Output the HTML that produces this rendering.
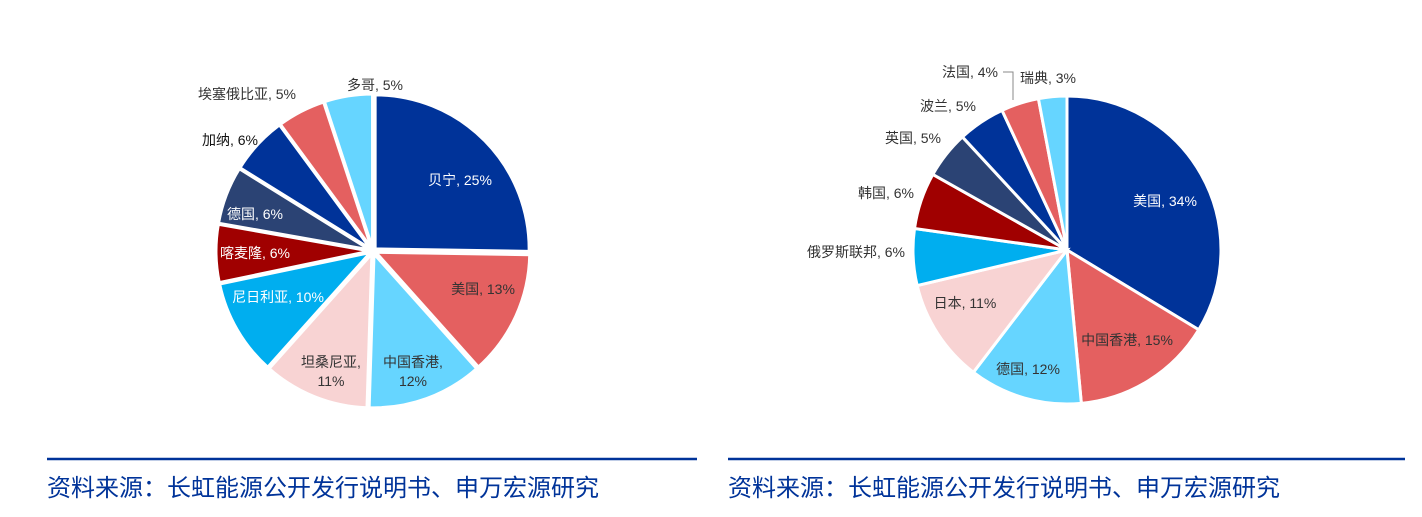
<!DOCTYPE html>
<html><head><meta charset="utf-8"><style>
body{margin:0;background:#fff;width:1422px;height:517px;overflow:hidden;font-family:"Liberation Sans","Noto Sans CJK SC",sans-serif}
svg{position:absolute;left:0;top:0}
</style></head><body>
<svg id="s" width="1422" height="517" xmlns="http://www.w3.org/2000/svg" font-family="Liberation Sans, Noto Sans CJK SC, sans-serif">
<line x1="47" y1="459" x2="697" y2="459" stroke="#003399" stroke-width="2.5"/>
<line x1="728" y1="459" x2="1405" y2="459" stroke="#003399" stroke-width="2.5"/>
<text x="47" y="496" font-size="24" fill="#003399" textLength="552">资料来源：长虹能源公开发行说明书、申万宏源研究</text>
<text x="728" y="496" font-size="24" fill="#003399" textLength="552">资料来源：长虹能源公开发行说明书、申万宏源研究</text>
<g id="p1"></g><g id="p2"></g>
<g font-size="14" text-anchor="middle">
<text x="460" y="185" fill="#fff">贝宁, 25%</text>
<text x="483" y="294" fill="#333">美国, 13%</text>
<text x="413" y="367" fill="#333">中国香港,</text><text x="413" y="386" fill="#333">12%</text>
<text x="331" y="367" fill="#333">坦桑尼亚,</text><text x="331" y="386" fill="#333">11%</text>
<text x="278" y="302" fill="#fff">尼日利亚, 10%</text>
<text x="255" y="258" fill="#fff">喀麦隆, 6%</text>
<text x="255" y="219" fill="#fff">德国, 6%</text>
<text x="230" y="145" fill="#111">加纳, 6%</text>
<text x="247" y="99" fill="#333">埃塞俄比亚, 5%</text>
<text x="375" y="90" fill="#333">多哥, 5%</text>
<text x="1165" y="206" fill="#fff">美国, 34%</text>
<text x="1127" y="345" fill="#333">中国香港, 15%</text>
<text x="1028" y="374" fill="#333">德国, 12%</text>
<text x="965" y="308" fill="#333">日本, 11%</text>
<text x="856" y="257" fill="#333">俄罗斯联邦, 6%</text>
<text x="886" y="198" fill="#333">韩国, 6%</text>
<text x="913" y="143" fill="#333">英国, 5%</text>
<text x="948" y="111" fill="#333">波兰, 5%</text>
<text x="970" y="77" fill="#333">法国, 4%</text>
<text x="1048" y="83" fill="#333">瑞典, 3%</text>
</g>
<polyline points="1003,72 1013,72 1013,100" fill="none" stroke="#888" stroke-width="1"/>
</svg>
<script>
var C=["#003399","#E46060","#66D5FF","#F8D3D3","#00AEEF","#A00000","#2B4374","#003399","#E46060","#66D5FF"];
function pie(id,cx,cy,r,v,ex){var g=document.getElementById(id),t=v.reduce((a,b)=>a+b,0),a=0,h="";
v.forEach(function(x,i){var a2=a+x/t*2*Math.PI,m=(a+a2)/2,dx=ex*Math.sin(m),dy=-ex*Math.cos(m),
x1=cx+dx+r*Math.sin(a),y1=cy+dy-r*Math.cos(a),x2=cx+dx+r*Math.sin(a2),y2=cy+dy-r*Math.cos(a2);
h+='<path d="M'+(cx+dx)+','+(cy+dy)+' L'+x1+','+y1+' A'+r+','+r+' 0 '+(a2-a>Math.PI?1:0)+' 1 '+x2+','+y2+' Z" fill="'+C[i]+'" stroke="#fff" stroke-width="3"/>';a=a2;});
g.innerHTML=h;}
pie("p1",373,251,154,[25,13,12,11,10,6,6,6,5,5],3);
pie("p2",1067,250,154,[34,15,12,11,6,6,5,5,4,3],0);
</script>
</body></html>
